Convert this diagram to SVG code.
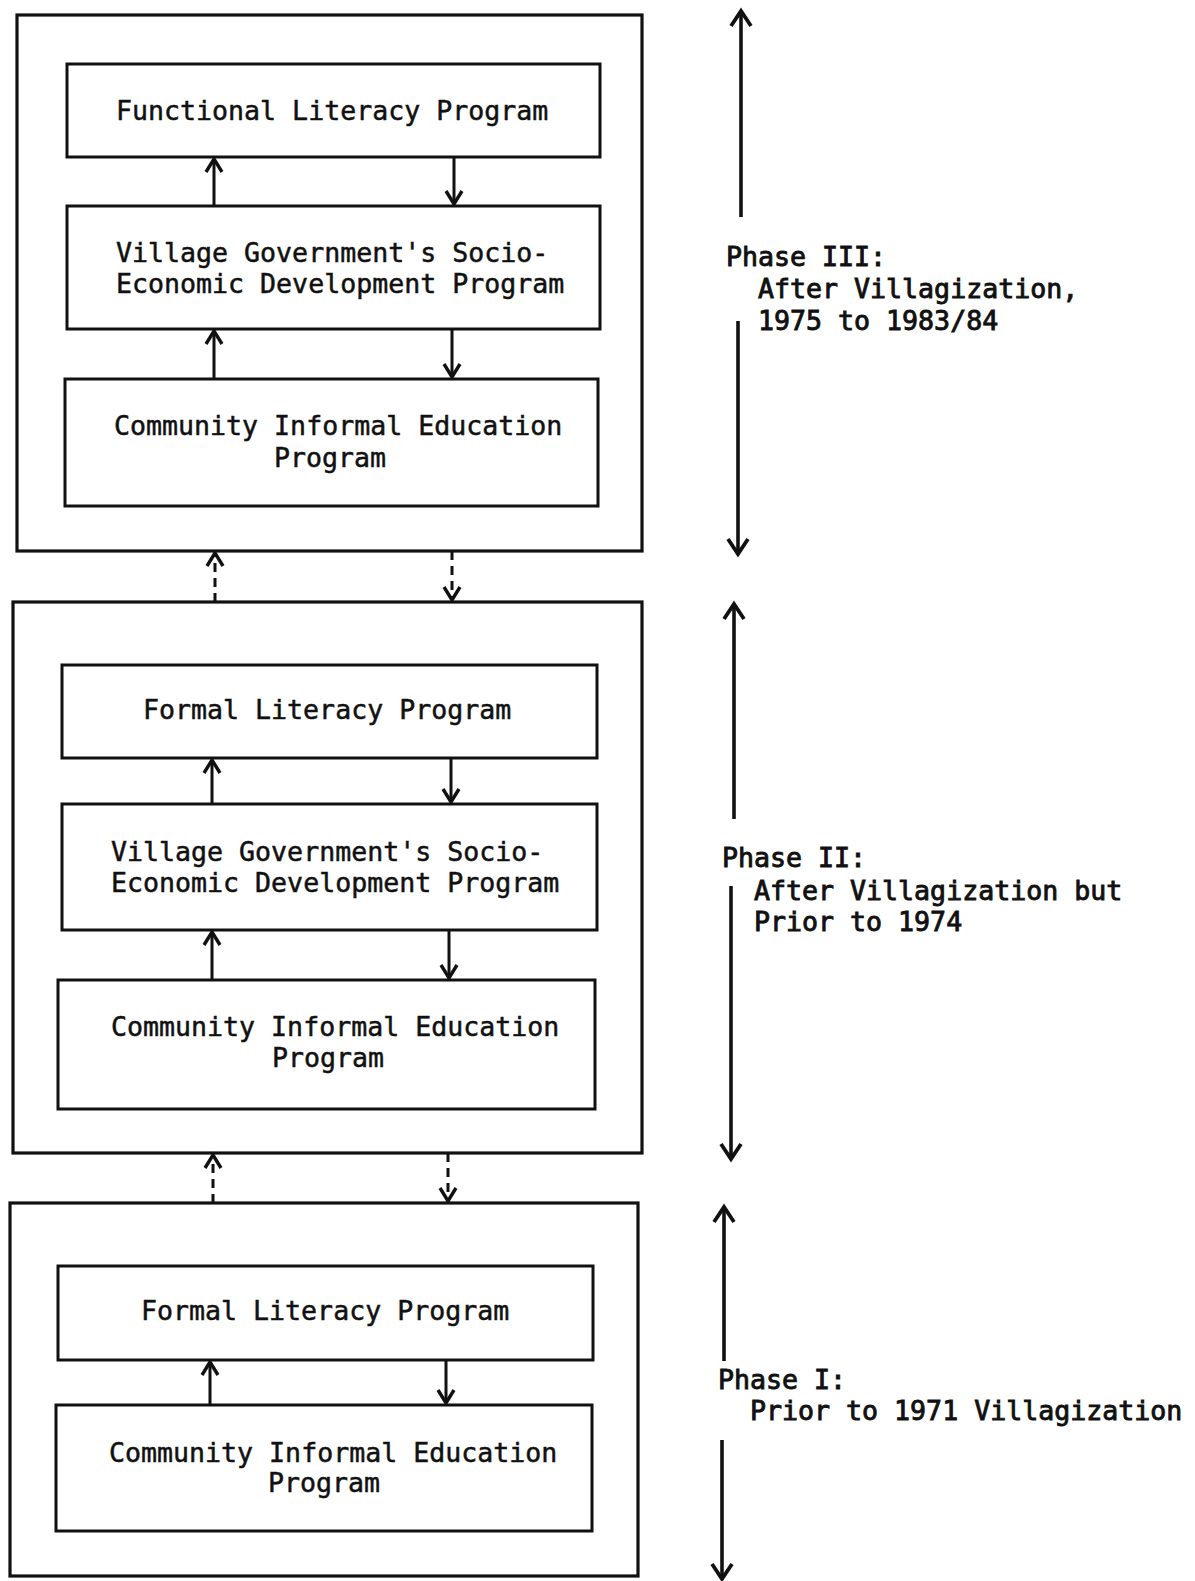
<svg xmlns="http://www.w3.org/2000/svg" width="1195" height="1581" viewBox="0 0 1195 1581">
<style>
.box{fill:none;stroke:#111;stroke-width:3}
.outer{fill:none;stroke:#111;stroke-width:3.2}
.t{font-family:"DejaVu Sans Mono","Liberation Mono",monospace;font-size:26.6px;fill:#111;stroke:#111;stroke-width:0.5}
.ph{stroke-width:0.9}
.c{fill:none;stroke:#111;stroke-width:3}
.d{fill:none;stroke:#111;stroke-width:3;stroke-dasharray:9 6}
.p{fill:none;stroke:#111;stroke-width:3.6}
</style>
<defs>
<marker id="ah" viewBox="-16 -10 18 20" refX="0" refY="0" markerUnits="userSpaceOnUse" markerWidth="18" markerHeight="20" orient="auto" overflow="visible">
<path d="M-13,-8 L0,0 L-13,8" fill="none" stroke="#111" stroke-width="3.4"/>
</marker>
<marker id="ahb" viewBox="-16 -12 18 24" refX="0" refY="0" markerUnits="userSpaceOnUse" markerWidth="18" markerHeight="24" orient="auto" overflow="visible">
<path d="M-15,-10 L0,0 L-15,10" fill="none" stroke="#111" stroke-width="3.8"/>
</marker>
</defs>
<rect width="1195" height="1581" fill="#fff"/>

<!-- Phase III -->
<g id="phase3">
<rect class="outer" x="17" y="15" width="625" height="536"/>
</g>
<g id="p3-functional">
<rect class="box" x="67" y="64" width="533" height="93"/>
<text class="t" x="116" y="120">Functional Literacy Program</text>
</g>
<g id="p3-village">
<rect class="box" x="67" y="206" width="533" height="123"/>
<text class="t" x="116" y="262">Village Government's Socio-</text>
<text class="t" x="116" y="293">Economic Development Program</text>
</g>
<g id="p3-community">
<rect class="box" x="65" y="379" width="533" height="127"/>
<text class="t" x="114" y="435">Community Informal Education</text>
<text class="t" x="274" y="467">Program</text>
</g>

<!-- Phase II -->
<g id="phase2">
<rect class="outer" x="13" y="602" width="629" height="551"/>
</g>
<g id="p2-formal">
<rect class="box" x="62" y="665" width="535" height="93"/>
<text class="t" x="143" y="719">Formal Literacy Program</text>
</g>
<g id="p2-village">
<rect class="box" x="62" y="804" width="535" height="126"/>
<text class="t" x="111" y="861">Village Government's Socio-</text>
<text class="t" x="111" y="892">Economic Development Program</text>
</g>
<g id="p2-community">
<rect class="box" x="58" y="980" width="537" height="129"/>
<text class="t" x="111" y="1036">Community Informal Education</text>
<text class="t" x="272" y="1067">Program</text>
</g>

<!-- Phase I -->
<g id="phase1">
<rect class="outer" x="10" y="1203" width="628" height="373"/>
</g>
<g id="p1-formal">
<rect class="box" x="58" y="1266" width="535" height="94"/>
<text class="t" x="141" y="1320">Formal Literacy Program</text>
</g>
<g id="p1-community">
<rect class="box" x="56" y="1405" width="536" height="126"/>
<text class="t" x="109" y="1462">Community Informal Education</text>
<text class="t" x="268" y="1492">Program</text>
</g>

<!-- Phase labels -->
<g id="label-phase3">
<text class="t ph" x="726" y="266">Phase III:</text>
<text class="t ph" x="758" y="298">After Villagization,</text>
<text class="t ph" x="758" y="330">1975 to 1983/84</text>
</g>
<g id="label-phase2">
<text class="t ph" x="722" y="867">Phase II:</text>
<text class="t ph" x="754" y="900">After Villagization but</text>
<text class="t ph" x="754" y="931">Prior to 1974</text>
</g>
<g id="label-phase1">
<text class="t ph" x="718" y="1389">Phase I:</text>
<text class="t ph" x="750" y="1420">Prior to 1971 Villagization</text>
</g>

<g id="connectors">
<!-- Phase III internal -->
<line class="c" x1="214" y1="206" x2="214" y2="159" marker-end="url(#ah)"/>
<line class="c" x1="454" y1="157" x2="454" y2="204" marker-end="url(#ah)"/>
<line class="c" x1="214" y1="379" x2="214" y2="331" marker-end="url(#ah)"/>
<line class="c" x1="452" y1="329" x2="452" y2="377" marker-end="url(#ah)"/>
<!-- between III and II -->
<line class="d" x1="215" y1="602" x2="215" y2="553" marker-end="url(#ah)"/>
<line class="d" x1="452" y1="551" x2="452" y2="600" marker-end="url(#ah)"/>
<!-- Phase II internal -->
<line class="c" x1="212" y1="804" x2="212" y2="760" marker-end="url(#ah)"/>
<line class="c" x1="451" y1="758" x2="451" y2="802" marker-end="url(#ah)"/>
<line class="c" x1="212" y1="980" x2="212" y2="932" marker-end="url(#ah)"/>
<line class="c" x1="449" y1="930" x2="449" y2="978" marker-end="url(#ah)"/>
<!-- between II and I -->
<line class="d" x1="213" y1="1203" x2="213" y2="1155" marker-end="url(#ah)"/>
<line class="d" x1="448" y1="1153" x2="448" y2="1201" marker-end="url(#ah)"/>
<!-- Phase I internal -->
<line class="c" x1="210" y1="1405" x2="210" y2="1362" marker-end="url(#ah)"/>
<line class="c" x1="446" y1="1360" x2="446" y2="1403" marker-end="url(#ah)"/>
<!-- phase span arrows -->
<line class="p" x1="741" y1="217" x2="741" y2="11" marker-end="url(#ahb)"/>
<line class="p" x1="738" y1="321" x2="738" y2="554" marker-end="url(#ahb)"/>
<line class="p" x1="734" y1="819" x2="734" y2="604" marker-end="url(#ahb)"/>
<line class="p" x1="731" y1="886" x2="731" y2="1159" marker-end="url(#ahb)"/>
<line class="p" x1="724" y1="1361" x2="724" y2="1207" marker-end="url(#ahb)"/>
<line class="p" x1="722" y1="1440" x2="722" y2="1579" marker-end="url(#ahb)"/>
</g>
</svg>
